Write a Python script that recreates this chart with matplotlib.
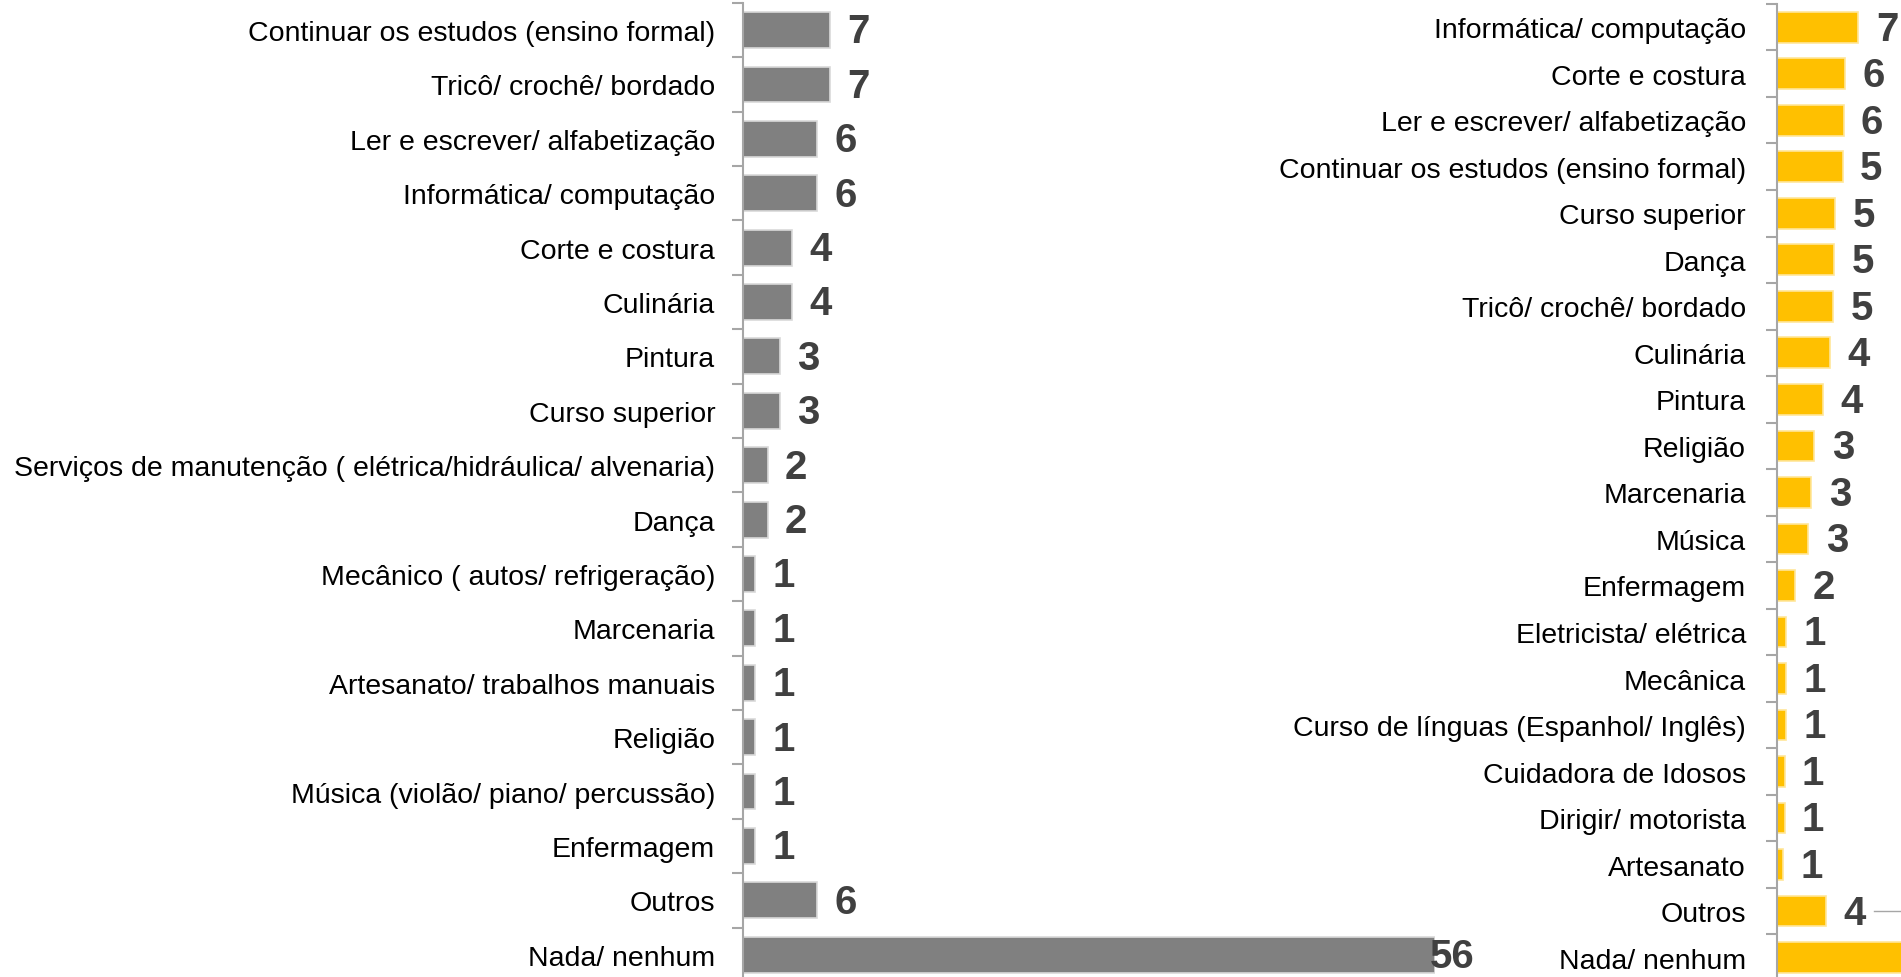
import matplotlib.pyplot as plt
from matplotlib.ticker import FixedLocator

plt.rcParams['font.family'] = ['Liberation Sans', 'DejaVu Sans']

# left chart (grey)
left_cats = ['Continuar os estudos (ensino formal)', 'Tricô/ crochê/ bordado',
             'Ler e escrever/ alfabetização', 'Informática/ computação',
             'Corte e costura', 'Culinária', 'Pintura', 'Curso superior',
             'Serviços de manutenção ( elétrica/hidráulica/ alvenaria)', 'Dança',
             'Mecânico ( autos/ refrigeração)', 'Marcenaria',
             'Artesanato/ trabalhos manuais', 'Religião',
             'Música (violão/ piano/ percussão)', 'Enfermagem', 'Outros', 'Nada/ nenhum']
left_vals = [7, 7, 6, 6, 4, 4, 3, 3, 2, 2, 1, 1, 1, 1, 1, 1, 6, 56]

# right chart (yellow)
right_cats = ['Informática/ computação', 'Corte e costura', 'Ler e escrever/ alfabetização',
              'Continuar os estudos (ensino formal)', 'Curso superior', 'Dança',
              'Tricô/ crochê/ bordado', 'Culinária', 'Pintura', 'Religião', 'Marcenaria',
              'Música', 'Enfermagem', 'Eletricista/ elétrica', 'Mecânica',
              'Curso de línguas (Espanhol/ Inglês)', 'Cuidadora de Idosos',
              'Dirigir/ motorista', 'Artesanato', 'Outros', 'Nada/ nenhum']
right_vals = [6.75, 5.68, 5.52, 5.46, 4.84, 4.75, 4.67, 4.43, 3.85, 3.11, 2.87,
              2.62, 1.56, 0.8, 0.8, 0.8, 0.66, 0.66, 0.57, 4.1, 40]


def draw(ax, cats, vals, color, xmax, edge, pad):
    n = len(cats)
    ys = list(range(n))
    ax.barh(ys, vals, height=0.66, color=color, edgecolor=edge, linewidth=1.2)
    ax.set_xlim(0, xmax)
    ax.set_ylim(n - 0.5, -0.5)
    ax.set_yticks(ys)
    ax.set_yticklabels(cats, fontsize=20.5)
    ax.yaxis.set_minor_locator(FixedLocator([y - 0.5 for y in range(n + 1)]))
    ax.tick_params(axis='y', which='major', length=0, pad=pad)
    ax.tick_params(axis='y', which='minor', length=8, width=1.5, color='#a6a6a6')
    ax.set_xticks([])
    for s in ['top', 'right', 'bottom']:
        ax.spines[s].set_visible(False)
    ax.spines['left'].set_color('#a6a6a6')
    ax.spines['left'].set_linewidth(1.5)
    for y, v in zip(ys, vals):
        if v >= xmax - 0.5:
            # bar reaches the axis end: label sits over its tip
            off = -4
        else:
            off = 12.5
        if v <= xmax:
            ax.annotate(f'{v:.0f}', (v, y), xytext=(off, -1), textcoords='offset points',
                        ha='left', va='center', fontsize=29, fontweight='bold',
                        color='#404040', annotation_clip=False)


fig = plt.figure(figsize=(19.01, 9.78), dpi=100)

ax1 = fig.add_axes([743 / 1901, -0.005, (1435 - 743) / 1901, 1.001])
draw(ax1, left_cats, left_vals, '#808080', 56, '#d9d9d9', 20)

ax2 = fig.add_axes([1776.5 / 1901, -0.004, (1901 - 1776.5) / 1901, 0.999])
draw(ax2, right_cats, right_vals, '#ffc000', 10.25, '#ffe699', 22)
# leader line of the hidden label
ax2.plot([8.0, 10.25], [len(right_cats) - 2] * 2, color='#a6a6a6', lw=1, clip_on=False)

fig.savefig('out.png', dpi=100)
